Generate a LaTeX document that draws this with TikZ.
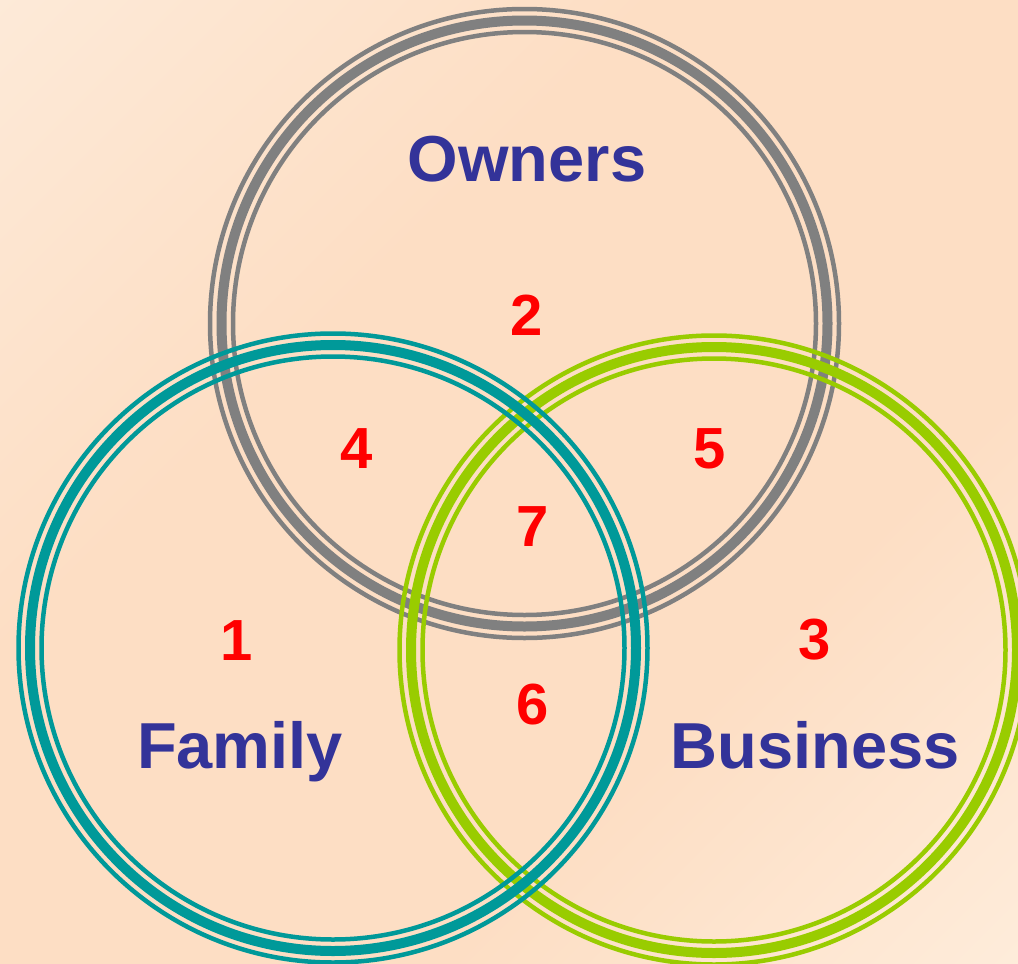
\documentclass[tikz,border=0pt]{standalone}
\usepackage{fontspec}
\setmainfont{Liberation Sans}
\definecolor{bgA}{RGB}{253,241,228}
\definecolor{bgB}{RGB}{253,222,196}
\definecolor{bgC}{RGB}{255,246,234}
\definecolor{ownergray}{RGB}{128,128,128}
\definecolor{famteal}{RGB}{0,153,153}
\definecolor{busgreen}{RGB}{153,204,0}
\definecolor{labelblue}{RGB}{51,51,153}
\pgfdeclareverticalshading{bgshade}{100bp}{color(0bp)=(bgC); color(35bp)=(bgB); color(62bp)=(bgB); color(100bp)=(bgA)}
\tikzset{
  pics/ring/.style={code={
    \draw[line width=10pt,#1] (0,0) circle[radius=303pt];
    \draw[line width=4.5pt,#1] (0,0) circle[radius=314.5pt];
    \draw[line width=4.5pt,#1] (0,0) circle[radius=291.5pt];
  }},
  title/.style={text=labelblue,font=\bfseries\fontsize{65}{70}\selectfont,inner sep=0pt,anchor=base},
  num/.style={text=red,font=\bfseries\fontsize{58}{62}\selectfont,inner sep=0pt}
}
\begin{document}
\begin{tikzpicture}[x=1pt,y=-1pt]
\useasboundingbox (0,0) rectangle (1018,964);
\shade[shading=bgshade,shading angle=45] (0,0) rectangle (1018,964);
\coordinate (cO) at (524.5,323.5);
\coordinate (cF) at (333,648);
\coordinate (cB) at (714,650);
\pic at (cO) {ring=ownergray};
\pic at (cB) {ring=busgreen};
\pic at (cF) {ring=famteal};
\node[title] (owners) at (527,181) {Owners};
\node[title] (family) at (240,768) {Family};
\node[title] (business) at (815,768) {Business};
\node[num] (n1) at (237,641) {1};
\node[num] (n2) at (527,315) {2};
\node[num] (n3) at (815,640) {3};
\node[num] (n4) at (357,449) {4};
\node[num] (n5) at (710,449) {5};
\node[num] (n6) at (533,705) {6};
\node[num] (n7) at (533,527) {7};
\end{tikzpicture}
\end{document}
